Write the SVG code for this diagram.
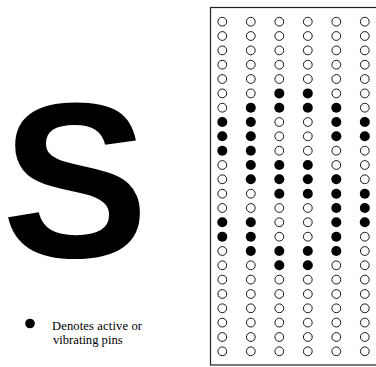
<svg xmlns="http://www.w3.org/2000/svg" width="376" height="367" viewBox="0 0 376 367">
<style>
.o{fill:#fff;stroke:#000;stroke-width:0.9}
.f{fill:#000}
.frame{fill:none;stroke:#222;stroke-width:1.2}
.big{font-family:"Liberation Sans",Arial,sans-serif;font-weight:bold;font-size:220px;fill:#000}
.lg{font-family:"Liberation Serif","Times New Roman",serif;font-size:12.6px;fill:#000}
</style>
<defs>
<circle id="o" r="4.4" class="o"/>
<circle id="f" r="5" class="f"/>
</defs>
<rect width="376" height="367" fill="#fff"/>
<g id="letter"><text class="big" x="75" y="257" text-anchor="middle">S</text></g>
<g id="legend">
<circle cx="30" cy="323.5" r="4.8" fill="#000"/>
<text class="lg" x="52" y="329.6" textLength="90" lengthAdjust="spacing">Denotes active or</text>
<text class="lg" x="53" y="343.6">vibrating pins</text>
</g>
<g id="board">
<rect class="frame" x="210.5" y="7.5" width="170" height="357.5"/>
<g transform="translate(0,21.7)"><use href="#o" x="222.3"/><use href="#o" x="250.8"/><use href="#o" x="279.3"/><use href="#o" x="307.8"/><use href="#o" x="336.3"/><use href="#o" x="364.8"/></g>
<g transform="translate(0,36)"><use href="#o" x="222.3"/><use href="#o" x="250.8"/><use href="#o" x="279.3"/><use href="#o" x="307.8"/><use href="#o" x="336.3"/><use href="#o" x="364.8"/></g>
<g transform="translate(0,50.4)"><use href="#o" x="222.3"/><use href="#o" x="250.8"/><use href="#o" x="279.3"/><use href="#o" x="307.8"/><use href="#o" x="336.3"/><use href="#o" x="364.8"/></g>
<g transform="translate(0,64.7)"><use href="#o" x="222.3"/><use href="#o" x="250.8"/><use href="#o" x="279.3"/><use href="#o" x="307.8"/><use href="#o" x="336.3"/><use href="#o" x="364.8"/></g>
<g transform="translate(0,79)"><use href="#o" x="222.3"/><use href="#o" x="250.8"/><use href="#o" x="279.3"/><use href="#o" x="307.8"/><use href="#o" x="336.3"/><use href="#o" x="364.8"/></g>
<g transform="translate(0,93.4)"><use href="#o" x="222.3"/><use href="#o" x="250.8"/><use href="#f" x="279.3"/><use href="#f" x="307.8"/><use href="#o" x="336.3"/><use href="#o" x="364.8"/></g>
<g transform="translate(0,107.7)"><use href="#o" x="222.3"/><use href="#f" x="250.8"/><use href="#f" x="279.3"/><use href="#f" x="307.8"/><use href="#f" x="336.3"/><use href="#o" x="364.8"/></g>
<g transform="translate(0,122)"><use href="#f" x="222.3"/><use href="#f" x="250.8"/><use href="#o" x="279.3"/><use href="#o" x="307.8"/><use href="#f" x="336.3"/><use href="#f" x="364.8"/></g>
<g transform="translate(0,136.3)"><use href="#f" x="222.3"/><use href="#f" x="250.8"/><use href="#o" x="279.3"/><use href="#o" x="307.8"/><use href="#f" x="336.3"/><use href="#f" x="364.8"/></g>
<g transform="translate(0,150.7)"><use href="#f" x="222.3"/><use href="#f" x="250.8"/><use href="#o" x="279.3"/><use href="#o" x="307.8"/><use href="#o" x="336.3"/><use href="#o" x="364.8"/></g>
<g transform="translate(0,165)"><use href="#o" x="222.3"/><use href="#f" x="250.8"/><use href="#f" x="279.3"/><use href="#f" x="307.8"/><use href="#o" x="336.3"/><use href="#o" x="364.8"/></g>
<g transform="translate(0,179.3)"><use href="#o" x="222.3"/><use href="#f" x="250.8"/><use href="#f" x="279.3"/><use href="#f" x="307.8"/><use href="#f" x="336.3"/><use href="#o" x="364.8"/></g>
<g transform="translate(0,193.7)"><use href="#o" x="222.3"/><use href="#o" x="250.8"/><use href="#f" x="279.3"/><use href="#f" x="307.8"/><use href="#f" x="336.3"/><use href="#f" x="364.8"/></g>
<g transform="translate(0,208)"><use href="#o" x="222.3"/><use href="#o" x="250.8"/><use href="#o" x="279.3"/><use href="#o" x="307.8"/><use href="#f" x="336.3"/><use href="#f" x="364.8"/></g>
<g transform="translate(0,222.3)"><use href="#f" x="222.3"/><use href="#f" x="250.8"/><use href="#o" x="279.3"/><use href="#o" x="307.8"/><use href="#f" x="336.3"/><use href="#f" x="364.8"/></g>
<g transform="translate(0,236.7)"><use href="#f" x="222.3"/><use href="#f" x="250.8"/><use href="#o" x="279.3"/><use href="#o" x="307.8"/><use href="#f" x="336.3"/><use href="#o" x="364.8"/></g>
<g transform="translate(0,251)"><use href="#o" x="222.3"/><use href="#f" x="250.8"/><use href="#f" x="279.3"/><use href="#f" x="307.8"/><use href="#f" x="336.3"/><use href="#o" x="364.8"/></g>
<g transform="translate(0,265.3)"><use href="#o" x="222.3"/><use href="#o" x="250.8"/><use href="#f" x="279.3"/><use href="#f" x="307.8"/><use href="#o" x="336.3"/><use href="#o" x="364.8"/></g>
<g transform="translate(0,279.6)"><use href="#o" x="222.3"/><use href="#o" x="250.8"/><use href="#o" x="279.3"/><use href="#o" x="307.8"/><use href="#o" x="336.3"/><use href="#o" x="364.8"/></g>
<g transform="translate(0,294)"><use href="#o" x="222.3"/><use href="#o" x="250.8"/><use href="#o" x="279.3"/><use href="#o" x="307.8"/><use href="#o" x="336.3"/><use href="#o" x="364.8"/></g>
<g transform="translate(0,308.3)"><use href="#o" x="222.3"/><use href="#o" x="250.8"/><use href="#o" x="279.3"/><use href="#o" x="307.8"/><use href="#o" x="336.3"/><use href="#o" x="364.8"/></g>
<g transform="translate(0,322.6)"><use href="#o" x="222.3"/><use href="#o" x="250.8"/><use href="#o" x="279.3"/><use href="#o" x="307.8"/><use href="#o" x="336.3"/><use href="#o" x="364.8"/></g>
<g transform="translate(0,337)"><use href="#o" x="222.3"/><use href="#o" x="250.8"/><use href="#o" x="279.3"/><use href="#o" x="307.8"/><use href="#o" x="336.3"/><use href="#o" x="364.8"/></g>
<g transform="translate(0,351.3)"><use href="#o" x="222.3"/><use href="#o" x="250.8"/><use href="#o" x="279.3"/><use href="#o" x="307.8"/><use href="#o" x="336.3"/><use href="#o" x="364.8"/></g>
</g>
</svg>
